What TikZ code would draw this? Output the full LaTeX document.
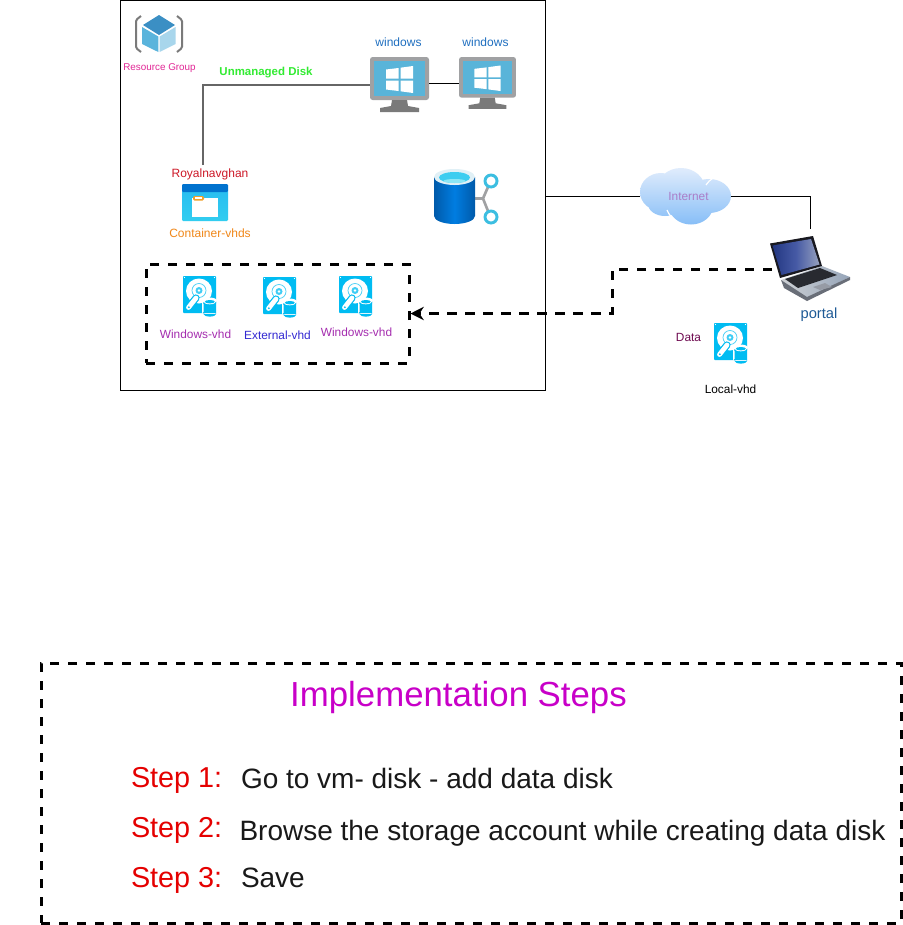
\documentclass[tikz,border=0pt]{standalone}
\usepackage{fontspec}
\setmainfont{Liberation Sans}
\usetikzlibrary{arrows.meta,calc}
\newcommand{\fsz}[1]{\fontsize{#1}{#1}\selectfont}
\definecolor{azsky}{HTML}{00BCF2}
\definecolor{vmgray}{HTML}{A0A1A3}
\definecolor{vmdark}{HTML}{7A7A7A}
\definecolor{vmblue}{HTML}{59B4D9}
\definecolor{labelblue}{HTML}{1F6FC0}
\tikzset{
  hit/.style={inner sep=0pt,outer sep=0pt,minimum width=#1},
  lbl/.style={inner sep=0pt,outer sep=0pt,anchor=center,font=\fsz{8.9}},
  thinline/.style={line width=.75pt,draw=black},
  grayline/.style={line width=.85pt,draw=black!60},
  dashedbox/.style={draw=black,line width=2.25pt,dash pattern=on 6.8pt off 6.7pt},
  bottombox/.style={draw=black,line width=2.25pt,dash pattern=on 6.8pt off 6.7pt},
  steplabel/.style={inner sep=0pt,outer sep=0pt,anchor=west,text=red!90!black,font=\fsz{21.6}},
  steptext/.style={inner sep=0pt,outer sep=0pt,anchor=west,text=black!90,font=\fsz{21}},
  pics/vmicon/.style={code={
    \fill[vmgray,rounded corners=2pt] (0,0) rectangle (59,43);
    \fill[vmblue] (4,4) rectangle (55,39);
    \fill[vmdark] (22,43) -- (37,43) -- (38,49) -- (49,51) -- (49,55) -- (10,55) -- (10,51) -- (21,49) -- cycle;
    \fill[white] (16,12.5) -- (28.5,11) -- (28.5,21.5) -- (16,21.5) -- cycle;
    \fill[white] (30.5,10.7) -- (43,9) -- (43,21.5) -- (30.5,21.5) -- cycle;
    \fill[white] (16,23.5) -- (28.5,23.5) -- (28.5,34) -- (16,32.5) -- cycle;
    \fill[white] (30.5,23.5) -- (43,23.5) -- (43,36) -- (30.5,34.3) -- cycle;
  }},
  pics/hddicon/.style={code={
    \fill[azsky,rounded corners=.6pt] (0,0) rectangle (33,37);
    \fill[white] (1.5,1.5) circle[radius=.7];
    \fill[white] (31.5,1.5) circle[radius=.7];
    \fill[white] (16,15) circle[x radius=13,y radius=12.5];
    \draw[azsky!70,line width=.55pt] (16,14.5) circle[radius=7];
    \fill[azsky!75] (16,14.5) circle[radius=3.5];
    \fill[white] (16,14.5) circle[radius=1.3];
    \draw[azsky,line width=5.4pt,line cap=round] (13,22) -- (5.5,31.5);
    \draw[white,line width=3.6pt,line cap=round] (13,22) -- (5.5,31.5);
    \fill[azsky] (5.8,31.2) circle[radius=1];
    \fill[white] (19,25) rectangle (34.5,39) (26.8,25.5) circle[x radius=7.8,y radius=4] (26.8,38) circle[x radius=7.8,y radius=3.5];
    \fill[azsky] (20.5,26) rectangle (33,38) (26.8,38) circle[x radius=6.3,y radius=2.6];
    \fill[white] (26.8,25.5) circle[x radius=6.3,y radius=2.8];
    \fill[azsky] (26.8,25.7) circle[x radius=5,y radius=1.7];
  }}
}
\begin{document}
\begin{tikzpicture}[x=.75pt,y=-.75pt]
\useasboundingbox (0,0) rectangle (903,925);
\fill[white] (0,0) rectangle (903,925);

% frames and hit boxes
\node[draw=black,line width=.75pt,inner sep=0pt,minimum width=318.75pt,minimum height=292.2pt] (rg) at (333,195.3) {};
\node[dashedbox,inner sep=0pt,minimum width=197.25pt,minimum height=74.25pt] (vhdbox) at (277.5,313.5) {};
\node[bottombox,inner sep=0pt,minimum width=645pt,minimum height=195pt] (stepsbox) at (471,793) {};

% resource group icon
\draw[vmdark,line width=1.5pt,rounded corners=1pt] (141,16) -- (136,20) -- (136,48) -- (141,52);
\draw[vmdark,line width=1.5pt,rounded corners=1pt] (177,16) -- (182,20) -- (182,48) -- (177,52);
\fill[color={rgb,255:red,90;green,180;blue,220}] (142,27) -- (158.3,36.5) -- (158.3,52) -- (142,44) -- cycle;
\fill[color={rgb,255:red,168;green,214;blue,236}] (175.5,27) -- (159.7,36.5) -- (159.7,52) -- (175.5,44) -- cycle;
\fill[color={rgb,255:red,59;green,143;blue,196}] (159,15) -- (175,25) -- (159,35) -- (143,25) -- cycle;
\node[lbl,text={rgb,255:red,226;green,40;blue,150},font=\fsz{7.4}] (rglabel) at (159.5,68) {Resource Group};
\node[lbl,text={rgb,255:red,50;green,235;blue,50},font=\bfseries\fsz{8.6}] (unmanaged) at (266,73) {Unmanaged Disk};

% VMs
\node[hit=44.25pt,minimum height=42pt] (vm1) at (399.5,85) {};
\node[hit=42.75pt,minimum height=39pt] (vm2) at (487.5,83.5) {};
\pic at (370,57) {vmicon};
\pic[xscale=.966,yscale=.945] at (459,57) {vmicon};
\node[lbl,text=labelblue,font=\fsz{9}] (w1) at (398.5,42) {windows};
\node[lbl,text=labelblue,font=\fsz{9}] (w2) at (485.5,42) {windows};

% container
\node[hit=34.5pt,minimum height=27.75pt] (container) at (205,202.5) {};
\shade[top color={rgb,255:red,40;green,190;blue,240},bottom color={rgb,255:red,50;green,205;blue,240},rounded corners=.8pt] (182,190) rectangle (228,221);
\fill[color={rgb,255:red,0;green,114;blue,206},rounded corners=.8pt] (182,184) rectangle (228,192);
\fill[white] (192,198) rectangle (218,217);
\fill[color={rgb,255:red,240;green,160;blue,40},rounded corners=1pt] (193,196) rectangle (204,200.5);
\fill[white] (195,197.3) rectangle (202,199);
\node[lbl,text={rgb,255:red,205;green,25;blue,40},font=\fsz{9}] (royal) at (210,174.5) {Royalnavghan};
\node[lbl,text={rgb,255:red,240;green,135;blue,25},font=\fsz{9}] (cvhds) at (210,233.5) {Container-vhds};

% storage account
\node[hit=47.25pt,minimum height=36pt] (storage) at (466,200) {};
\draw[vmgray,line width=2pt] (474,198.5) -- (483,198.5) -- (488,187) (483,198.5) -- (488,211);
\draw[color={rgb,255:red,60;green,190;blue,225},line width=2.2pt,fill=white] (491,181) circle[radius=6];
\draw[color={rgb,255:red,60;green,190;blue,225},line width=2.2pt,fill=white] (491,217) circle[radius=6];
\shade[left color={rgb,255:red,0;green,90;blue,170},right color={rgb,255:red,0;green,90;blue,170},middle color={rgb,255:red,0;green,125;blue,225}]
  (434,177) -- (434,216) arc[start angle=180,end angle=360,x radius=20.5,y radius=-8] -- (475,177) -- cycle;
\fill[color={rgb,255:red,224;green,240;blue,246}] (454.5,177) circle[x radius=20.5,y radius=8];
\fill[color={rgb,255:red,60;green,205;blue,240}] (454.5,177.5) circle[x radius=15.5,y radius=5.5];
\fill[color={rgb,255:red,140;green,230;blue,245}] (454.5,181) circle[x radius=11,y radius=2];

% vhds
\pic at (183,276) {hddicon};
\pic at (263,277) {hddicon};
\pic at (339,276) {hddicon};
\pic at (714,323) {hddicon};
\node[lbl,text={rgb,255:red,165;green,45;blue,175}] (v1) at (195.5,334.5) {Windows-vhd};
\node[lbl,text={rgb,255:red,50;green,40;blue,210}] (v2) at (277.5,335) {External-vhd};
\node[lbl,text={rgb,255:red,165;green,45;blue,175}] (v3) at (356.5,332.5) {Windows-vhd};
\node[lbl,text={rgb,255:red,110;green,10;blue,80}] (dataL) at (688.5,337) {Data};
\node[lbl,text=black] (localL) at (730.5,389) {Local-vhd};

% cloud
\node[hit=68.25pt,minimum height=41pt] (cloud) at (685.5,196) {};
\shade[top color={rgb,255:red,224;green,236;blue,252},bottom color={rgb,255:red,135;green,190;blue,247}]
  (661,192) circle[x radius=21,y radius=19]
  (681,189) circle[x radius=24,y radius=21]
  (709,196) circle[x radius=22,y radius=17]
  (691,206) circle[x radius=22,y radius=18.5]
  (665,204) circle[x radius=17,y radius=12];
\draw[white,line width=.9pt] (667,210) .. controls (669,215) and (672,218) .. (676,221);
\draw[white,line width=.9pt] (713,178) .. controls (710,180) and (708,182) .. (706,185);
\node[lbl,text={rgb,255:red,170;green,125;blue,200}] (netL) at (688.5,196) {Internet};

% laptop
\node[hit=57pt,minimum height=60pt] (laptop) at (810,269) {};
\shade[left color={rgb,255:red,205;green,208;blue,212},right color={rgb,255:red,150;green,165;blue,185}] (781,280) -- (822,266) -- (850,277) -- (807,298) -- cycle;
\fill[color={rgb,255:red,105;green,110;blue,120}] (781,280) -- (807,297) -- (850,277) -- (850,280) -- (807,301) -- (784,288) -- cycle;
\fill[color={rgb,255:red,40;green,42;blue,48}] (785,279) -- (820,268) -- (837,275) -- (798,288) -- cycle;
\fill[color={rgb,255:red,150;green,155;blue,165}] (813,287) -- (825,283) -- (832,287) -- (820,290) -- cycle;
\fill[color={rgb,255:red,25;green,25;blue,32}] (770,243.5) -- (813,236) -- (822,266) -- (780,278) -- cycle;
\shade[shading angle=75,left color={rgb,255:red,35;green,55;blue,130},right color={rgb,255:red,150;green,160;blue,190},middle color={rgb,255:red,70;green,90;blue,165}] (772.5,245.5) -- (811,239) -- (819.5,264.5) -- (781.5,275) -- cycle;

\node[lbl,text={rgb,255:red,30;green,90;blue,150},font=\fsz{11}] (portalL) at (819,315) {portal};

% connectors
\coordinate (elbow) at (203,165);
\coordinate (bend) at (612,291);
\draw[grayline] (elbow) |- (vm1.west);
\draw[thinline] (vm1.east |- vm2.west) -- (vm2.west);
\draw[thinline] (rg.east |- cloud.west) -- (cloud.west);
\draw[thinline] (cloud.east) -| (laptop.north);
\draw[line width=2.25pt,dash pattern=on 6.8pt off 6.7pt,-{Stealth[length=10pt,width=10pt]}] (laptop.west) -| (bend) |- (vhdbox.east);

% steps
\node[lbl,text={rgb,255:red,200;green,0;blue,200},font=\fsz{26.1}] (title) at (458.5,697) {Implementation Steps};
\node[steplabel] (s1) at (131,780) {Step 1:};
\node[steplabel] (s2) at (131,830) {Step 2:};
\node[steplabel] (s3) at (131,880) {Step 3:};
\node[steptext] (t1) at (241,778) {Go to vm- disk - add data disk};
\node[steptext] (t2) at (239.5,833) {Browse the storage account while creating data disk};
\node[steptext] (t3) at (241,877.5) {Save};
\end{tikzpicture}
\end{document}
